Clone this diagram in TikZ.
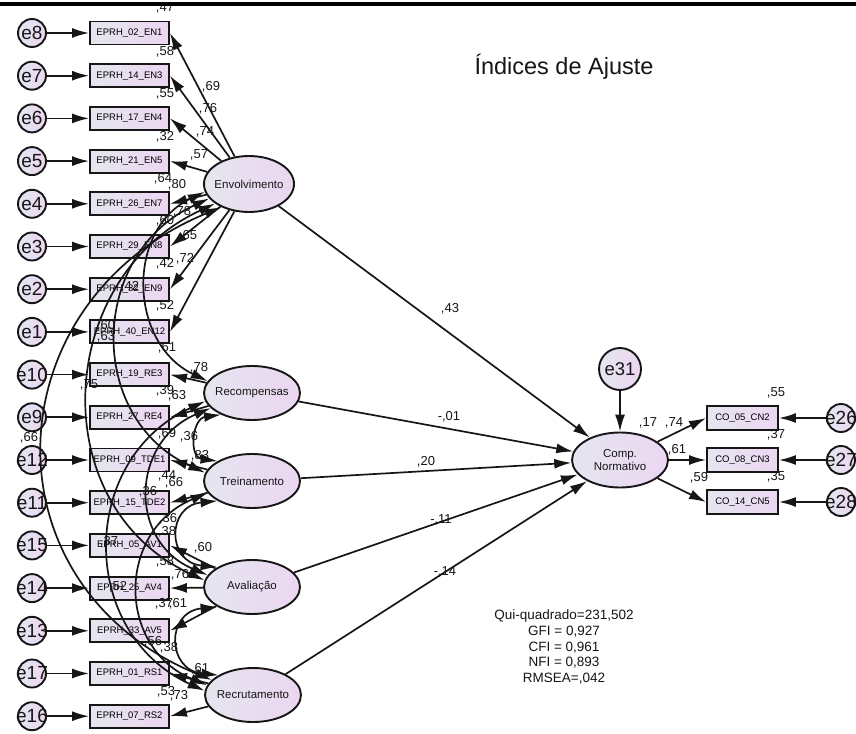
\documentclass[tikz,border=0pt]{standalone}
\usepackage{fontspec}
\setmainfont{Liberation Sans}
\usetikzlibrary{arrows.meta,shapes.geometric}
\definecolor{fillL}{RGB}{228,230,239}
\definecolor{fillR}{RGB}{236,214,241}
\definecolor{ink}{RGB}{22,22,22}
\begin{document}
\begin{tikzpicture}[x=1pt,y=-1pt,
  >={Latex[length=17pt,width=10pt]},
  shapeline/.style={draw=ink,line width=1.9pt,left color=fillL,right color=fillR},
  obs/.style={shapeline,rectangle,minimum width=79pt,minimum height=23pt,inner sep=0pt,font=\fontsize{9.5}{10}\selectfont},
  lat/.style={shapeline,ellipse,minimum width=96pt,minimum height=54pt,inner sep=0pt},
  err/.style={shapeline,circle,minimum size=28pt,inner sep=0pt},
  errtxt/.style={font=\fontsize{19}{20}\selectfont,inner sep=0pt,text=ink},
  lattxt/.style={font=\fontsize{11.5}{13}\selectfont,align=center,inner sep=0pt,text=ink},
  arr/.style={draw=ink,line width=1.7pt,->},
  cov/.style={draw=ink,line width=1.7pt,<->},
  est/.style={font=\fontsize{13}{14}\selectfont,inner sep=0pt,text=ink},
]
\path[use as bounding box] (0,0) rectangle (856,733);
\fill[white] (0,0) rectangle (856,733);
\clip (0,0) rectangle (856,733);

% observed indicators and their error terms
\foreach \k/\txt/\etxt in {0/EPRH\_02\_EN1/e8, 1/EPRH\_14\_EN3/e7, 2/EPRH\_17\_EN4/e6,
    3/EPRH\_21\_EN5/e5, 4/EPRH\_26\_EN7/e4, 5/EPRH\_29\_EN8/e3, 6/EPRH\_32\_EN9/e2,
    7/EPRH\_40\_EN12/e1, 8/EPRH\_19\_RE3/e10, 9/EPRH\_27\_RE4/e9, 10/EPRH\_09\_TDE1/e12,
    11/EPRH\_15\_TDE2/e11, 12/EPRH\_05\_AV1/e15, 13/EPRH\_25\_AV4/e14, 14/EPRH\_33\_AV5/e13,
    15/EPRH\_01\_RS1/e17, 16/EPRH\_07\_RS2/e16}{
  \node[obs] (b\k) at (129.5,{33+42.7*\k}) {\txt};
  \node[err] (u\k) at (32,{33+42.7*\k}) {};
  \node[errtxt] (ut\k) at (u\k) {\etxt};
  \draw[arr] (u\k) -- (b\k);
}

% latent factors
\node[lat,minimum width=90pt,minimum height=56pt] (env) at (249,184) {};
\node[lat] (rec) at (252,393) {};
\node[lat] (tre) at (252,481) {};
\node[lat] (ava) at (252,587) {};
\node[lat] (rcr) at (253,695) {};
\node[lat,minimum height=55pt] (cn) at (620,460) {};
\node[lattxt] (envt) at (env) {Envolvimento};
\node[lattxt] (rect) at (rec) {Recompensas};
\node[lattxt] (tret) at (tre) {Treinamento};
\node[lattxt] (avat) at (ava) {Avaliação};
\node[lattxt] (rcrt) at (rcr) {Recrutamento};
\node[lattxt] (cnt) at (cn) {Comp.\\Normativo};

% outcome indicators
\foreach \n/\yy/\txt/\etxt in {cn2/418/CO\_05\_CN2/e26, cn3/460/CO\_08\_CN3/e27, cn5/502/CO\_14\_CN5/e28}{
  \node[obs,minimum width=71pt,minimum height=24pt] (\n) at (742.5,\yy) {\txt};
  \node[err] (\etxt) at (841,\yy) {};
  \node[errtxt] (\etxt t) at (\etxt) {\etxt};
  \draw[arr] (\etxt) -- (\n);
  \draw[arr] (cn) -- (\n.west);
}
\node[err,minimum size=42pt] (e31) at (620,369) {};
\node[errtxt,font=\fontsize{18.5}{20}\selectfont] (e31t) at (e31) {e31};
\draw[arr] (e31) -- (cn);

% loadings
\foreach \k in {0,...,7} \draw[arr] (env) -- (b\k.east);
\draw[arr] (rec) -- (b8.east);
\draw[arr] (rec) -- (b9.east);
\draw[arr] (tre) -- (b10.east);
\draw[arr] (tre) -- (b11.east);
\draw[arr] (ava) -- (b12.east);
\draw[arr] (ava) -- (b13.east);
\draw[arr] (ava) -- (b14.east);
\draw[arr] (rcr) -- (b15.east);
\draw[arr] (rcr) -- (b16.east);

% structural paths
\foreach \f in {env,rec,tre,ava,rcr} \draw[arr] (\f) -- (cn);

% factor covariances
\draw[cov] (env.220) .. controls +(-230,95) and +(-230,-95) .. (rcr.160);
\draw[cov] (env.210) .. controls +(-161,75) and +(-161,-75) .. (ava.172);
\draw[cov] (env.200) .. controls +(-120,55) and +(-120,-55) .. (tre.170);
\draw[cov] (env.190) .. controls +(-79,38) and +(-79,-38) .. (rec.165);
\draw[cov] (rec.215) .. controls +(-29,4) and +(-29,-4) .. (tre.150);
\draw[cov] (tre.210) .. controls +(-51,5) and +(-51,-5) .. (ava.150);
\draw[cov] (ava.210) .. controls +(-52,5) and +(-52,-5) .. (rcr.150);
\draw[cov] (rec.200) .. controls +(-80,34) and +(-80,-34) .. (ava.165);
\draw[cov] (tre.195) .. controls +(-91,38) and +(-91,-38) .. (rcr.168);
\draw[cov] (rec.190) .. controls +(-127,58) and +(-127,-58) .. (rcr.175);

% estimates
\foreach \x/\y/\t [count=\i] in {
  165/8/{,47}, 165/52/{,58}, 165/94/{,55}, 165/137/{,32}, 163/179/{,64}, 165/221/{,60},
  165/264/{,42}, 165/306/{,52}, 167/348/{,61}, 165/391/{,39}, 167/434/{,69}, 167/476/{,44},
  168/519/{,36}, 165/562/{,58}, 164/604/{,37}, 169/648/{,38}, 166/692/{,53},
  211/87/{,69}, 208/109/{,76}, 205/132/{,74}, 199/155/{,57}, 177/185/{,80}, 182/212/{,78},
  188/236/{,65}, 185/259/{,72}, 199/368/{,78}, 177/396/{,63}, 200/456/{,83}, 174/483/{,66},
  203/548/{,60}, 180/575/{,76}, 178/604/{,61}, 200/669/{,61}, 179/696/{,73},
  130/287/{,42}, 106/326/{,60}, 106/337/{,63}, 89/385/{,75}, 29/438/{,66}, 189/437/{,36},
  148/492/{,36}, 167/532/{,38}, 109/542/{,37}, 118/587/{,52}, 153/642/{,56},
  450/309/{,43}, 449/417/{-,01}, 426/462/{,20}, 441/520/{-,11}, 445/572/{-,14},
  648/423/{,17}, 674/423/{,74}, 677/450/{,61}, 699/478/{,59}, 776/393/{,55}, 776/435/{,37}, 776/477/{,35}}
  \node[est] (v\i) at (\x,\y) {\t};

% fit indices
\node[font=\fontsize{13.5}{15.6}\selectfont,align=center,inner sep=0pt,text=ink] (fit) at (564,647)
  {Qui-quadrado=231,502\\GFI = 0,927\\CFI = 0,961\\NFI = 0,893\\RMSEA=,042};
\node[font=\fontsize{23.5}{26}\selectfont,anchor=base,inner sep=0pt,text=ink] (title) at (564,75) {Índices de Ajuste};

% top rule
\fill[black] (0,2.5) rectangle (856,6.5);
\end{tikzpicture}
\end{document}
